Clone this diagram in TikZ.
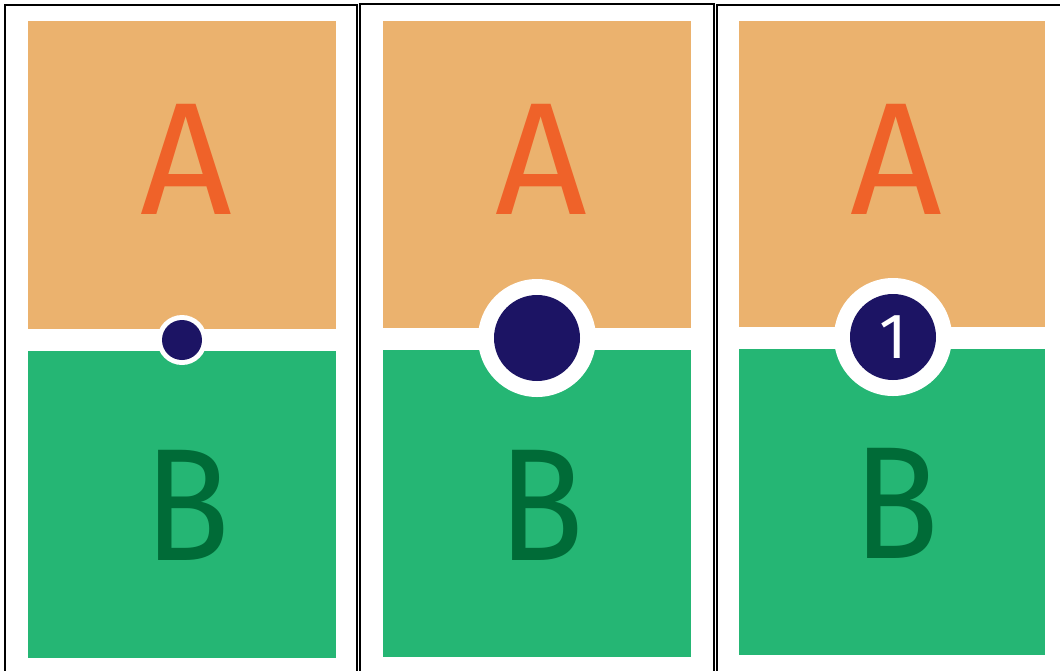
\documentclass[tikz,border=0pt]{standalone}
\usepackage{fontspec}
\setmainfont{Fira Sans}
\definecolor{panelA}{HTML}{EBB26E}
\definecolor{letterA}{HTML}{EF6229}
\definecolor{panelB}{HTML}{25B674}
\definecolor{letterB}{HTML}{006B37}
\definecolor{navy}{HTML}{1C1464}
\newcommand{\narrowB}{\scalebox{0.88}[1]{B}}
\tikzset{
  frame/.style={draw=black,line width=2.8pt,fill=white},
  topbox/.style={fill=panelA},
  botbox/.style={fill=panelB},
  bigletter/.style={font=\fontsize{160}{160}\selectfont,anchor=base,inner sep=0pt},
  ring/.style={circle,fill=white,inner sep=0pt,minimum size=#1},
  dot/.style={circle,fill=navy,inner sep=0pt,minimum size=#1,text=white,font=\fontsize{64}{64}\selectfont}
}
\begin{document}
\begin{tikzpicture}[x=1pt,y=-1pt]
\useasboundingbox (0,0) rectangle (1060,670);
% frames
\draw[frame] (5,5) rectangle (357,690);
\draw[frame] (360,4) rectangle (714,690);
\draw[frame] (717,5) rectangle (1080,690);
% panel 1
\fill[topbox] (28,21) rectangle (336,329);
\fill[botbox] (28,351) rectangle (336,658);
\node[bigletter,text=letterA] (a1) at (186,214) {A};
\node[bigletter,text=letterB] (b1) at (187,560) {\narrowB};
\node[ring=50pt] (r1) at (182,340) {};
\node[dot=40pt] (d1) at (182,340) {};
% panel 2
\fill[topbox] (383,21) rectangle (691,328);
\fill[botbox] (383,350) rectangle (691,657);
\node[bigletter,text=letterA] (a2) at (541,214) {A};
\node[bigletter,text=letterB] (b2) at (541,560) {\narrowB};
\node[ring=118pt] (r2) at (537,338) {};
\node[dot=86pt] (d2) at (537,338) {};
% panel 3
\fill[topbox] (739,21) rectangle (1045,327);
\fill[botbox] (739,349) rectangle (1045,655);
\node[bigletter,text=letterA] (a3) at (896,214) {A};
\node[bigletter,text=letterB] (b3) at (896,558) {\narrowB};
\node[ring=118pt] (r3) at (893,337) {};
\node[dot=86pt] (d3) at (893,337) {1};
\end{tikzpicture}
\end{document}
